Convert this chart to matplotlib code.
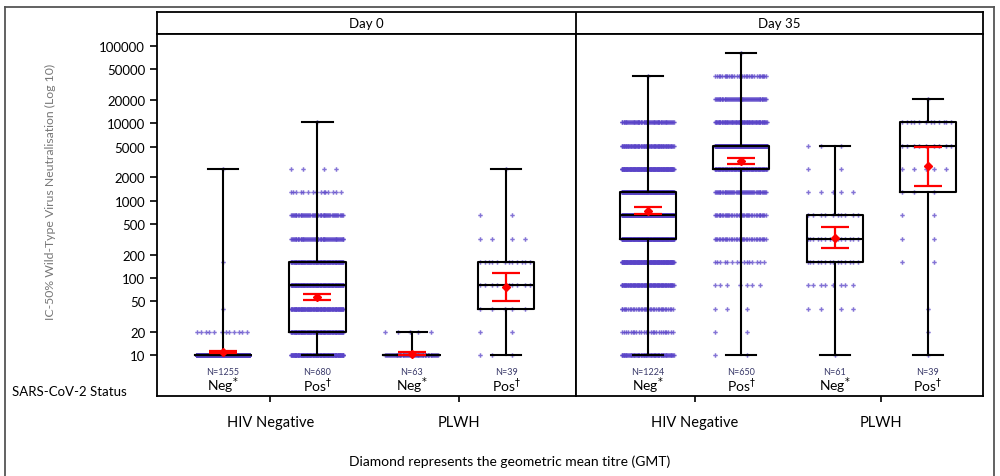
import numpy as np
import matplotlib.pyplot as plt
from matplotlib.patches import Rectangle
from matplotlib.lines import Line2D

plt.rcParams['font.family'] = ['Lato', 'DejaVu Sans']

# titre levels (dilution steps)
levels = [10, 20, 40, 80, 160, 320, 640, 1280, 2560, 5120, 10240, 20480, 40960, 81920]

days = ['Day 0', 'Day 35']
groups = ['HIV Negative', 'PLWH']
status = ['Neg', 'Pos', 'Neg', 'Pos']
n_labels = [['N=1255', 'N=680', 'N=63', 'N=39'],
            ['N=1224', 'N=650', 'N=61', 'N=39']]

# counts of subjects at each titre level (same order as levels)
counts_day0 = [
    [1240, 12, 1, 0, 1, 0, 0, 0, 1, 0, 0, 0, 0, 0],
    [120, 100, 100, 130, 100, 60, 50, 15, 4, 0, 1, 0, 0, 0],
    [58, 5, 0, 0, 0, 0, 0, 0, 0, 0, 0, 0, 0, 0],
    [3, 2, 5, 10, 12, 4, 2, 0, 1, 0, 0, 0, 0, 0],
]
counts_day35 = [
    [70, 25, 35, 90, 140, 180, 210, 195, 140, 75, 63, 0, 1, 0],
    [2, 2, 3, 7, 15, 35, 40, 50, 90, 250, 70, 55, 30, 1],
    [1, 0, 4, 8, 14, 14, 10, 5, 2, 3, 0, 0, 0, 0],
    [1, 1, 1, 0, 2, 2, 2, 3, 5, 9, 12, 1, 0, 0],
]

# box statistics: whisker low, Q1, median, Q3, whisker high
box_day0 = [
    [10, 10, 10, 10, 2560],
    [10, 20, 80, 160, 10240],
    [10, 10, 10, 10, 20],
    [10, 40, 80, 160, 2560],
]
box_day35 = [
    [10, 320, 640, 1280, 40960],
    [10, 2560, 5120, 5120, 81920],
    [10, 160, 320, 640, 5120],
    [10, 1280, 5120, 10240, 20480],
]

# geometric mean titre with 95% CI (low, high)
gmt_day0 = [10.8, 57, 10.4, 75]
ci_lo_day0 = [10.5, 52, 10.0, 50]
ci_hi_day0 = [11.2, 62, 10.9, 115]
gmt_day35 = [730, 3250, 330, 2800]
ci_lo_day35 = [660, 2950, 240, 1520]
ci_hi_day35 = [820, 3600, 450, 5000]

ytick_vals = [10, 20, 50, 100, 200, 500, 1000, 2000, 5000, 10000, 20000, 50000, 100000]

W, H = 1000, 477
fig = plt.figure(figsize=(W / 100, H / 100), dpi=100)


def px(x0, y0, x1, y1):
    return [x0 / W, 1 - y1 / H, (x1 - x0) / W, (y1 - y0) / H]


# outer frame
fig.add_artist(Line2D([5 / W, 5 / W], [0, 1 - 8 / H], color='#555555', lw=1.3))
fig.add_artist(Line2D([5 / W, 994 / W], [1 - 8 / H, 1 - 8 / H], color='#555555', lw=1.3))
fig.add_artist(Line2D([994 / W, 994 / W], [0, 1 - 8 / H], color='#555555', lw=1.3))

# header strip
hdr = fig.add_axes(px(157, 13, 983, 35))
hdr.set_xlim(157, 983)
hdr.set_ylim(0, 1)
hdr.set_xticks([])
hdr.set_yticks([])
for s in hdr.spines.values():
    s.set_linewidth(1.3)
hdr.axvline(576, color='black', lw=1.3)
hdr.text((157 + 576) / 2, 0.5, days[0], ha='center', va='center', fontsize=9.5)
hdr.text((576 + 983) / 2, 0.5, days[1], ha='center', va='center', fontsize=9.5)

panels = [
    (px(157, 35, 576, 397), (0.30, 4.74), counts_day0, box_day0,
     gmt_day0, ci_lo_day0, ci_hi_day0),
    (px(576, 35, 983, 397), (0.23, 4.59), counts_day35, box_day35,
     gmt_day35, ci_lo_day35, ci_hi_day35),
]

dot_col = '#5a44c8'
positions = [1, 2, 3, 4]
golden = 0.6180339887

for p, (rect, xl, counts, boxes, gmt, lo, hi) in enumerate(panels):
    ax = fig.add_axes(rect)
    ax.set_yscale('log')
    ax.set_ylim(2.95, 1.43e5)
    ax.set_xlim(*xl)

    # jittered subject points
    for i, cnt in enumerate(counts):
        xs, ys = [], []
        for lev, n in zip(levels, cnt):
            if n == 0:
                continue
            if n == 1:
                offs = [0.0]
            else:
                offs = [((k * golden) % 1 - 0.5) * 0.56 for k in range(n)]
            xs += [positions[i] + o for o in offs]
            ys += [lev] * n
        ax.plot(xs, ys, 'P', ms=3.2, mew=0, color=dot_col, alpha=0.75, zorder=2)

    stats = [dict(whislo=b[0], q1=b[1], med=b[2], q3=b[3], whishi=b[4], fliers=[])
             for b in boxes]
    lp = dict(color='black', lw=1.5)
    ax.bxp(stats, positions=positions, widths=0.6, capwidths=0.32,
           showfliers=False, boxprops=lp, whiskerprops=lp, capprops=lp,
           medianprops=lp, manage_ticks=False, zorder=3)

    gm = np.array(gmt)
    yerr = [gm - np.array(lo), np.array(hi) - gm]
    ax.errorbar(positions, gm, yerr=yerr, fmt='D', ms=4, color='red',
                ecolor='red', elinewidth=1.6, capsize=10, capthick=1.6, zorder=4)

    ax.set_xticks([1.5, 3.5])
    ax.set_xticklabels(groups, fontsize=10.5)
    ax.tick_params(axis='x', length=4, width=1.2, pad=10)
    ax.minorticks_off()
    for s in ax.spines.values():
        s.set_linewidth(1.3)

    if p == 0:
        ax.set_yticks(ytick_vals)
        ax.set_yticklabels([str(v) for v in ytick_vals], fontsize=9.5)
        ax.tick_params(axis='y', length=5, width=1.2)
    else:
        ax.set_yticks([])
    ax.minorticks_off()

    tr = ax.get_xaxis_transform()
    for i in range(4):
        ax.text(positions[i], 0.069, n_labels[p][i], transform=tr, ha='center',
                va='center', fontsize=6.5, color='#3a3a6a')
        sup = r'$^{*}$' if status[i] == 'Neg' else r'$^{\dagger}$'
        ax.text(positions[i], 0.030, status[i] + sup, transform=tr, ha='center',
                va='center', fontsize=10)

fig.text(0.05, 0.597, 'IC-50% Wild-Type Virus Neutralisation (Log 10)',
         rotation=90, ha='center', va='center', fontsize=8.8, color='#777777')
fig.text(12 / W, 1 - 392 / H, 'SARS-CoV-2 Status', ha='left', va='center', fontsize=9.5)
fig.text(510 / W, 1 - 462 / H, 'Diamond represents the geometric mean titre (GMT)',
         ha='center', va='center', fontsize=10)

fig.savefig('out.png', dpi=100)
